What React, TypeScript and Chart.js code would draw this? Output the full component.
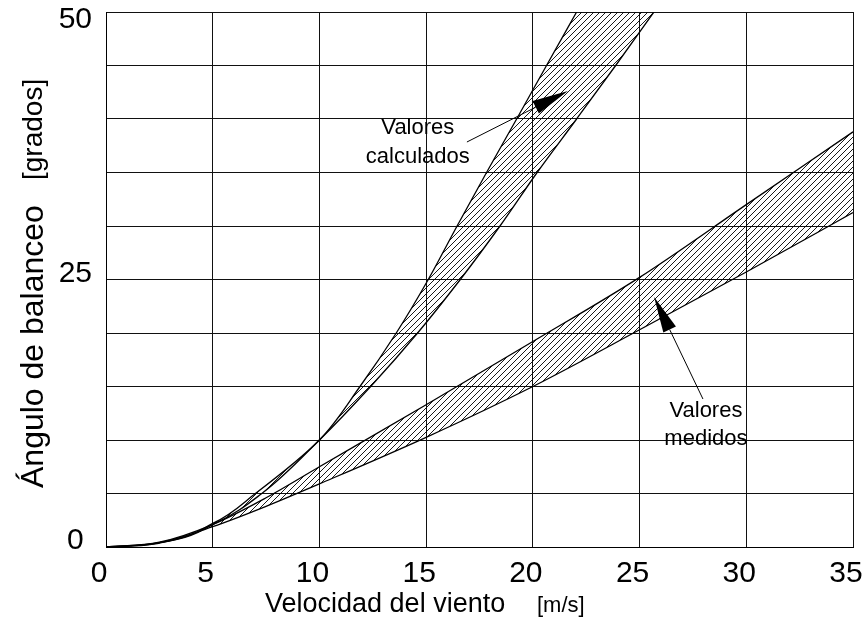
import React, { useEffect, useRef } from 'react';
import { Chart, registerables } from 'chart.js';

Chart.register(...registerables);

// ---- Data ----
// "Valores calculados" band, read as wind speed (x) at given heel angles (y)
const calcY = [0, 0.1, 0.4, 2.2, 5, 10, 15, 20, 25, 30, 35, 40, 45, 50];
const calcLeftX = [0, 1.2, 2.5, 5, 7, 10, 11.9, 13.6, 15.1, 16.45, 17.83, 19.24, 20.64, 22.05];
const calcRightX = [0, 1.3, 2.6, 5.1, 7.3, 10, 12.4, 14.6, 16.6, 18.46, 20.2, 22.05, 23.88, 25.67];
// "Valores medidos" band, heel angle (y) at given wind speeds (x)
const medX = [0, 2.5, 5, 7.5, 10, 15, 20, 25, 30, 35];
const medUpperY = [0, 0.45, 2.1, 4.6, 7.5, 13.3, 19.2, 25.2, 32, 38.8];
const medLowerY = [0, 0.4, 1.9, 3.8, 5.9, 10.25, 15, 20.3, 25.7, 31.25];

// Axis ticks
const xTicks = [0, 5, 10, 15, 20, 25, 30, 35];
const yLabelled = [0, 25, 50];

// Text
const xTitle = 'Velocidad del viento';
const xUnit = '[m/s]';
const yTitle = 'Ángulo de balanceo';
const yUnit = '[grados]';
const calcLabel = ['Valores', 'calculados'];
const medLabel = ['Valores', 'medidos'];

// Annotation anchors (data units)
const calcText = { x: 14.61, y: [39.16, 36.45] };
const calcArrow = { from: [16.91, 37.85], to: [21.64, 42.62] };
const medText = { x: 28.11, y: [12.71, 10.09] };
const medArrow = { from: [27.97, 13.83], to: [25.68, 23.36] };

const FONT = "'Liberation Sans', Arial, Helvetica, sans-serif";

function toPts(xs: number[], ys: number[]) {
  return xs.map((x, i) => ({ x, y: ys[i] }));
}

function makeHatch(): CanvasPattern | string {
  const c = document.createElement('canvas');
  const s = 6;
  c.width = s;
  c.height = s;
  const g = c.getContext('2d');
  if (!g) return 'rgba(0,0,0,0.2)';
  g.strokeStyle = '#000';
  g.lineWidth = 0.9;
  g.beginPath();
  g.moveTo(-1, s + 1);
  g.lineTo(s + 1, -1);
  g.moveTo(-1, 1);
  g.lineTo(1, -1);
  g.moveTo(s - 1, s + 1);
  g.lineTo(s + 1, s - 1);
  g.stroke();
  const p = g.createPattern(c, 'repeat');
  return p || 'rgba(0,0,0,0.2)';
}

function drawArrow(ctx: CanvasRenderingContext2D, x1: number, y1: number, x2: number, y2: number) {
  const len = 36;
  const hw = 7;
  const dx = x2 - x1;
  const dy = y2 - y1;
  const d = Math.hypot(dx, dy);
  const ux = dx / d;
  const uy = dy / d;
  const bx = x2 - ux * len;
  const by = y2 - uy * len;
  ctx.save();
  ctx.strokeStyle = '#000';
  ctx.lineWidth = 1;
  ctx.beginPath();
  ctx.moveTo(x1, y1);
  ctx.lineTo(bx, by);
  ctx.stroke();
  ctx.fillStyle = '#000';
  ctx.beginPath();
  ctx.moveTo(x2, y2);
  ctx.lineTo(bx - uy * hw, by + ux * hw);
  ctx.lineTo(bx + uy * hw, by - ux * hw);
  ctx.closePath();
  ctx.fill();
  ctx.restore();
}

const textPlugin = {
  id: 'customText',
  afterDraw(chart: any) {
    const { ctx, scales } = chart;
    const xs = scales.x;
    const ys = scales.y;
    ctx.save();
    ctx.fillStyle = '#000';
    // x axis title
    ctx.textBaseline = 'alphabetic';
    ctx.textAlign = 'left';
    ctx.font = `27px ${FONT}`;
    ctx.fillText(xTitle, 265, 612);
    ctx.font = `22px ${FONT}`;
    ctx.fillText(xUnit, 537, 612);
    // y axis title
    ctx.save();
    ctx.translate(43, 488);
    ctx.rotate(-Math.PI / 2);
    ctx.font = `32px ${FONT}`;
    ctx.fillText(yTitle, 0, 0);
    ctx.restore();
    ctx.save();
    ctx.translate(42, 180);
    ctx.rotate(-Math.PI / 2);
    ctx.font = `28px ${FONT}`;
    ctx.fillText(yUnit, 0, 0);
    ctx.restore();

    // annotations
    ctx.font = `22px ${FONT}`;
    ctx.textAlign = 'center';
    ctx.textBaseline = 'middle';
    calcLabel.forEach((t, i) => {
      ctx.fillText(t, xs.getPixelForValue(calcText.x), ys.getPixelForValue(calcText.y[i]));
    });
    medLabel.forEach((t, i) => {
      ctx.fillText(t, xs.getPixelForValue(medText.x), ys.getPixelForValue(medText.y[i]));
    });
    drawArrow(
      ctx,
      xs.getPixelForValue(calcArrow.from[0]),
      ys.getPixelForValue(calcArrow.from[1]),
      xs.getPixelForValue(calcArrow.to[0]),
      ys.getPixelForValue(calcArrow.to[1])
    );
    drawArrow(
      ctx,
      xs.getPixelForValue(medArrow.from[0]),
      ys.getPixelForValue(medArrow.from[1]),
      xs.getPixelForValue(medArrow.to[0]),
      ys.getPixelForValue(medArrow.to[1])
    );
    ctx.restore();
  },
};

export default function App() {
  const ref = useRef<HTMLCanvasElement | null>(null);

  useEffect(() => {
    const canvas = ref.current;
    if (!canvas) return;
    const hatch = makeHatch();
    const lineStyle = {
      borderColor: '#000',
      borderWidth: 1.3,
      pointRadius: 0,
      pointHoverRadius: 0,
      cubicInterpolationMode: 'monotone' as const,
      backgroundColor: hatch,
    };
    const chart = new Chart(canvas, {
      type: 'line',
      data: {
        datasets: [
          {
            ...lineStyle,
            label: 'calc-left',
            indexAxis: 'y',
            data: toPts(calcLeftX, calcY),
            fill: '+1',
          } as any,
          {
            ...lineStyle,
            label: 'calc-right',
            indexAxis: 'y',
            data: toPts(calcRightX, calcY),
            fill: false,
          } as any,
          { ...lineStyle, label: 'med-upper', data: toPts(medX, medUpperY), fill: '+1' },
          { ...lineStyle, label: 'med-lower', data: toPts(medX, medLowerY), fill: false },
        ],
      },
      options: {
        animation: false,
        responsive: false,
        maintainAspectRatio: false,
        events: [],
        layout: { padding: { left: 0, top: 12, right: 9, bottom: 0 } },
        plugins: {
          legend: { display: false },
          tooltip: { enabled: false },
          title: { display: false },
        },
        scales: {
          x: {
            type: 'linear',
            min: 0,
            max: 35,
            afterBuildTicks: (scale: any) => {
              scale.ticks = xTicks.map((v) => ({ value: v }));
            },
            afterFit: (scale: any) => {
              scale.height = 95;
              scale.paddingLeft = 0;
              scale.paddingRight = 0;
            },
            ticks: {
              autoSkip: false,
              maxRotation: 0,
              minRotation: 0,
              padding: 9,
              labelOffset: -7,
              color: '#000',
              font: { family: FONT, size: 30 },
              callback: (v: any) => String(v),
            },
            grid: { color: '#111', lineWidth: 1, drawTicks: false },
            border: { color: '#000', width: 1 },
          },
          y: {
            type: 'linear',
            min: 0,
            max: 50,
            afterFit: (scale: any) => {
              scale.width = 106;
              scale.paddingTop = 0;
              scale.paddingBottom = 0;
            },
            ticks: {
              stepSize: 5,
              autoSkip: false,
              padding: 14,
              crossAlign: 'center',
              labelOffset: -6,
              color: '#000',
              font: { family: FONT, size: 30, lineHeight: 0.9 },
              callback: (v: any) => {
                const n = Number(v);
                if (!yLabelled.includes(n)) return '';
                if (n === 50) return ['', String(n)];
                return String(n);
              },
            },
            grid: { color: '#111', lineWidth: 1, drawTicks: false },
            border: { color: '#000', width: 1 },
          },
        },
      },
      plugins: [textPlugin],
    });
    return () => chart.destroy();
  }, []);

  return (
    <div style={{ position: 'fixed', left: 0, top: 0, width: 862, height: 642, background: '#fff' }}>
      <canvas ref={ref} width={862} height={642} style={{ display: 'block', width: 862, height: 642 }} />
    </div>
  );
}
